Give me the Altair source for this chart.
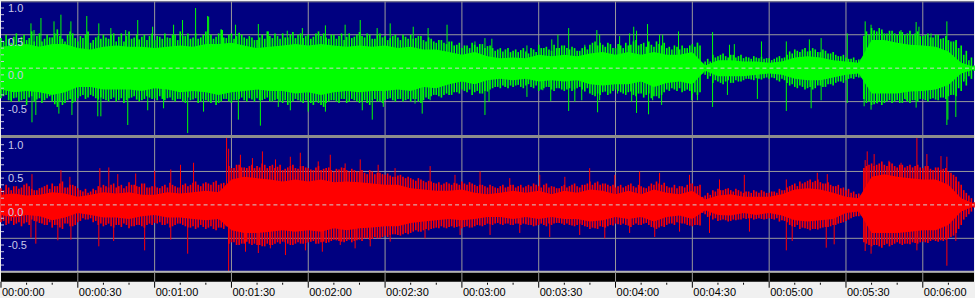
import altair as alt
import pandas as pd

# ---------------- data ----------------
# solid inner body of each channel, every 5 s
core_t = list(range(0, 381, 5))

green_up = [0.32, 0.34, 0.36, 0.32, 0.36, 0.36, 0.30, 0.28, 0.32, 0.34,
            0.32, 0.32, 0.30, 0.32, 0.34, 0.32, 0.36, 0.36, 0.38, 0.34,
            0.30, 0.32, 0.34, 0.36, 0.34, 0.36, 0.34, 0.32, 0.34, 0.32,
            0.34, 0.30, 0.32, 0.28, 0.28, 0.24, 0.20, 0.24, 0.18, 0.15,
            0.16, 0.15, 0.20, 0.18, 0.20, 0.18, 0.22, 0.24, 0.20, 0.24,
            0.20, 0.24, 0.20, 0.20, 0.24, 0.04, 0.12, 0.12, 0.10, 0.10,
            0.08, 0.10, 0.16, 0.18, 0.16, 0.12, 0.10, 0.08, 0.42, 0.42,
            0.38, 0.35, 0.34, 0.32, 0.25, 0.08, 0.02]
green_dn = [-0.32, -0.36, -0.34, -0.36, -0.40, -0.36, -0.28, -0.28, -0.32, -0.32,
            -0.32, -0.34, -0.30, -0.32, -0.36, -0.34, -0.36, -0.40, -0.36, -0.34,
            -0.32, -0.34, -0.34, -0.38, -0.36, -0.40, -0.36, -0.34, -0.36, -0.34,
            -0.34, -0.32, -0.34, -0.28, -0.30, -0.24, -0.20, -0.24, -0.18, -0.16,
            -0.18, -0.16, -0.20, -0.18, -0.20, -0.18, -0.24, -0.26, -0.24, -0.24,
            -0.20, -0.28, -0.22, -0.20, -0.24, -0.04, -0.12, -0.12, -0.12, -0.10,
            -0.08, -0.10, -0.16, -0.18, -0.18, -0.14, -0.10, -0.08, -0.38, -0.38,
            -0.38, -0.35, -0.34, -0.32, -0.25, -0.08, -0.02]

red_up = [0.15, 0.17, 0.14, 0.15, 0.19, 0.17, 0.12, 0.15, 0.19, 0.17,
          0.19, 0.15, 0.15, 0.19, 0.17, 0.19, 0.21, 0.19, 0.38, 0.42,
          0.40, 0.38, 0.35, 0.38, 0.35, 0.38, 0.34, 0.35, 0.34, 0.32,
          0.30, 0.30, 0.25, 0.23, 0.21, 0.21, 0.23, 0.18, 0.16, 0.18,
          0.21, 0.18, 0.21, 0.16, 0.21, 0.18, 0.23, 0.21, 0.16, 0.21,
          0.16, 0.23, 0.18, 0.16, 0.21, 0.08, 0.14, 0.16, 0.12, 0.12,
          0.12, 0.16, 0.23, 0.25, 0.23, 0.18, 0.12, 0.10, 0.42, 0.46,
          0.42, 0.40, 0.38, 0.38, 0.30, 0.10, 0.02]
red_dn = [-0.15, -0.19, -0.15, -0.17, -0.23, -0.19, -0.12, -0.15, -0.19, -0.19,
          -0.21, -0.17, -0.15, -0.19, -0.19, -0.21, -0.23, -0.21, -0.38, -0.42,
          -0.42, -0.40, -0.38, -0.40, -0.38, -0.40, -0.35, -0.38, -0.35, -0.34,
          -0.32, -0.32, -0.27, -0.25, -0.23, -0.21, -0.23, -0.21, -0.18, -0.18,
          -0.21, -0.18, -0.21, -0.18, -0.21, -0.21, -0.25, -0.23, -0.18, -0.21,
          -0.18, -0.25, -0.18, -0.16, -0.21, -0.08, -0.15, -0.16, -0.12, -0.15,
          -0.12, -0.16, -0.23, -0.25, -0.23, -0.21, -0.12, -0.10, -0.42, -0.42,
          -0.42, -0.40, -0.38, -0.38, -0.30, -0.10, -0.02]

# ragged outer edge: max / min of each 1-second slice (even and odd seconds)
edge_t_even = list(range(0, 381, 2))
edge_t_odd = list(range(1, 380, 2))

green_edge_up_even = [0.45, 0.50, 0.38, 0.52, 0.47, 0.42, 0.55, 0.48, 0.40, 0.50,
                      0.46, 0.58, 0.44, 0.50, 0.52, 0.40, 0.45, 0.55, 0.42, 0.48,
                      0.50, 0.44, 0.52, 0.47, 0.40, 0.55, 0.46, 0.43, 0.50, 0.48,
                      0.42, 0.47, 0.52, 0.45, 0.50, 0.55, 0.48, 0.44, 0.52, 0.46,
                      0.55, 0.50, 0.47, 0.58, 0.45, 0.52, 0.48, 0.50, 0.44, 0.46,
                      0.42, 0.50, 0.55, 0.45, 0.48, 0.52, 0.46, 0.54, 0.50, 0.45,
                      0.50, 0.47, 0.55, 0.52, 0.44, 0.50, 0.48, 0.42, 0.52, 0.47,
                      0.54, 0.46, 0.50, 0.44, 0.52, 0.48, 0.45, 0.50, 0.42, 0.47,
                      0.50, 0.45, 0.48, 0.40, 0.44, 0.38, 0.42, 0.36, 0.40, 0.35,
                      0.30, 0.34, 0.38, 0.32, 0.36, 0.33, 0.30, 0.28, 0.25, 0.30,
                      0.26, 0.24, 0.30, 0.22, 0.28, 0.35, 0.30, 0.28, 0.35, 0.30,
                      0.34, 0.28, 0.30, 0.26, 0.32, 0.35, 0.40, 0.38, 0.32, 0.36,
                      0.30, 0.34, 0.38, 0.35, 0.42, 0.36, 0.32, 0.35, 0.40, 0.34,
                      0.30, 0.28, 0.32, 0.34, 0.30, 0.36, 0.38, 0.08, 0.14, 0.20,
                      0.18, 0.22, 0.16, 0.20, 0.18, 0.15, 0.16, 0.18, 0.15, 0.14,
                      0.15, 0.14, 0.18, 0.16, 0.25, 0.28, 0.24, 0.30, 0.26, 0.28,
                      0.24, 0.26, 0.22, 0.20, 0.18, 0.16, 0.14, 0.12, 0.14, 0.55,
                      0.60, 0.55, 0.58, 0.52, 0.56, 0.50, 0.54, 0.52, 0.50, 0.55,
                      0.48, 0.52, 0.46, 0.50, 0.45, 0.42, 0.40, 0.30, 0.20, 0.12,
                      0.04]
green_edge_dn_even = [-0.45, -0.40, -0.50, -0.44, -0.48, -0.55, -0.42, -0.47, -0.52, -0.45,
                      -0.50, -0.58, -0.55, -0.48, -0.52, -0.45, -0.40, -0.44, -0.42, -0.47,
                      -0.46, -0.50, -0.44, -0.48, -0.52, -0.45, -0.42, -0.50, -0.46, -0.44,
                      -0.45, -0.42, -0.48, -0.44, -0.50, -0.46, -0.52, -0.48, -0.45, -0.50,
                      -0.48, -0.52, -0.55, -0.50, -0.46, -0.52, -0.48, -0.44, -0.50, -0.47,
                      -0.45, -0.48, -0.44, -0.50, -0.46, -0.52, -0.55, -0.50, -0.48, -0.52,
                      -0.50, -0.55, -0.52, -0.58, -0.50, -0.48, -0.52, -0.46, -0.50, -0.48,
                      -0.52, -0.48, -0.55, -0.46, -0.50, -0.48, -0.45, -0.50, -0.46, -0.48,
                      -0.50, -0.46, -0.52, -0.44, -0.42, -0.40, -0.44, -0.38, -0.40, -0.36,
                      -0.32, -0.36, -0.40, -0.34, -0.38, -0.35, -0.30, -0.28, -0.26, -0.30,
                      -0.28, -0.25, -0.30, -0.24, -0.30, -0.34, -0.30, -0.28, -0.34, -0.30,
                      -0.34, -0.30, -0.32, -0.28, -0.35, -0.38, -0.42, -0.40, -0.35, -0.38,
                      -0.32, -0.36, -0.40, -0.35, -0.42, -0.38, -0.40, -0.45, -0.42, -0.40,
                      -0.32, -0.30, -0.34, -0.36, -0.32, -0.38, -0.40, -0.08, -0.16, -0.22,
                      -0.20, -0.24, -0.18, -0.22, -0.20, -0.18, -0.16, -0.18, -0.16, -0.15,
                      -0.16, -0.15, -0.20, -0.18, -0.26, -0.28, -0.26, -0.32, -0.28, -0.30,
                      -0.26, -0.28, -0.24, -0.22, -0.20, -0.18, -0.15, -0.13, -0.14, -0.52,
                      -0.55, -0.52, -0.55, -0.50, -0.52, -0.48, -0.52, -0.50, -0.48, -0.50,
                      -0.46, -0.50, -0.45, -0.48, -0.44, -0.42, -0.40, -0.30, -0.20, -0.12,
                      -0.04]
green_edge_up_odd = [0.40, 0.44, 0.47, 0.36, 0.50, 0.45, 0.40, 0.52, 0.44, 0.46,
                     0.52, 0.48, 0.40, 0.55, 0.45, 0.48, 0.50, 0.38, 0.46, 0.44,
                     0.46, 0.50, 0.40, 0.52, 0.48, 0.44, 0.50, 0.47, 0.42, 0.52,
                     0.48, 0.44, 0.46, 0.50, 0.42, 0.48, 0.52, 0.46, 0.44, 0.50,
                     0.48, 0.44, 0.52, 0.46, 0.50, 0.44, 0.53, 0.46, 0.48, 0.42,
                     0.46, 0.44, 0.48, 0.52, 0.44, 0.46, 0.50, 0.45, 0.52, 0.48,
                     0.44, 0.52, 0.48, 0.46, 0.50, 0.44, 0.52, 0.47, 0.45, 0.50,
                     0.48, 0.52, 0.44, 0.50, 0.46, 0.42, 0.48, 0.46, 0.50, 0.44,
                     0.44, 0.48, 0.42, 0.46, 0.40, 0.42, 0.38, 0.40, 0.34, 0.38,
                     0.34, 0.30, 0.35, 0.36, 0.30, 0.34, 0.26, 0.30, 0.28, 0.24,
                     0.28, 0.27, 0.25, 0.30, 0.24, 0.30, 0.32, 0.26, 0.30, 0.34,
                     0.30, 0.32, 0.26, 0.30, 0.28, 0.38, 0.34, 0.35, 0.38, 0.30,
                     0.36, 0.30, 0.34, 0.40, 0.34, 0.38, 0.40, 0.32, 0.36, 0.38,
                     0.32, 0.34, 0.28, 0.30, 0.34, 0.32, 0.34, 0.10, 0.10, 0.16,
                     0.20, 0.18, 0.20, 0.16, 0.20, 0.17, 0.14, 0.16, 0.17, 0.15,
                     0.12, 0.16, 0.15, 0.20, 0.22, 0.26, 0.28, 0.25, 0.30, 0.24,
                     0.28, 0.22, 0.24, 0.18, 0.20, 0.14, 0.16, 0.13, 0.48, 0.50,
                     0.56, 0.60, 0.52, 0.56, 0.52, 0.55, 0.50, 0.56, 0.52, 0.48,
                     0.50, 0.46, 0.50, 0.44, 0.48, 0.40, 0.42, 0.34, 0.26, 0.16]
green_edge_dn_odd = [-0.42, -0.48, -0.45, -0.50, -0.46, -0.44, -0.50, -0.45, -0.48, -0.42,
                     -0.54, -0.50, -0.52, -0.46, -0.50, -0.42, -0.46, -0.40, -0.45, -0.44,
                     -0.48, -0.46, -0.50, -0.45, -0.48, -0.44, -0.47, -0.48, -0.42, -0.46,
                     -0.48, -0.46, -0.45, -0.48, -0.46, -0.50, -0.44, -0.47, -0.52, -0.46,
                     -0.50, -0.48, -0.52, -0.46, -0.50, -0.48, -0.46, -0.48, -0.45, -0.50,
                     -0.48, -0.46, -0.50, -0.48, -0.50, -0.48, -0.52, -0.46, -0.50, -0.48,
                     -0.52, -0.50, -0.55, -0.52, -0.48, -0.50, -0.46, -0.52, -0.46, -0.50,
                     -0.50, -0.52, -0.48, -0.50, -0.52, -0.46, -0.48, -0.46, -0.50, -0.46,
                     -0.46, -0.50, -0.48, -0.46, -0.40, -0.42, -0.40, -0.40, -0.36, -0.38,
                     -0.34, -0.32, -0.36, -0.38, -0.34, -0.32, -0.28, -0.30, -0.28, -0.26,
                     -0.26, -0.28, -0.26, -0.28, -0.26, -0.32, -0.28, -0.32, -0.30, -0.32,
                     -0.32, -0.34, -0.30, -0.32, -0.30, -0.40, -0.38, -0.36, -0.40, -0.34,
                     -0.34, -0.38, -0.36, -0.40, -0.38, -0.44, -0.38, -0.42, -0.45, -0.36,
                     -0.34, -0.32, -0.30, -0.34, -0.34, -0.36, -0.36, -0.10, -0.12, -0.18,
                     -0.22, -0.20, -0.22, -0.18, -0.20, -0.16, -0.17, -0.15, -0.17, -0.14,
                     -0.14, -0.18, -0.16, -0.22, -0.24, -0.30, -0.28, -0.30, -0.32, -0.26,
                     -0.28, -0.24, -0.26, -0.20, -0.22, -0.16, -0.16, -0.14, -0.46, -0.50,
                     -0.54, -0.50, -0.52, -0.48, -0.50, -0.52, -0.46, -0.52, -0.48, -0.46,
                     -0.48, -0.46, -0.47, -0.44, -0.46, -0.40, -0.42, -0.34, -0.26, -0.16]

red_edge_up_even = [0.25, 0.30, 0.22, 0.28, 0.26, 0.32, 0.24, 0.22, 0.26, 0.30,
                    0.32, 0.28, 0.35, 0.26, 0.30, 0.25, 0.20, 0.18, 0.24, 0.28,
                    0.30, 0.26, 0.32, 0.28, 0.25, 0.34, 0.30, 0.27, 0.32, 0.26,
                    0.28, 0.25, 0.30, 0.33, 0.28, 0.26, 0.32, 0.30, 0.35, 0.28,
                    0.34, 0.30, 0.36, 0.32, 0.30, 0.55, 0.60, 0.56, 0.55, 0.60,
                    0.58, 0.62, 0.55, 0.60, 0.57, 0.52, 0.56, 0.60, 0.54, 0.58,
                    0.55, 0.52, 0.58, 0.54, 0.56, 0.50, 0.53, 0.55, 0.50, 0.52,
                    0.50, 0.48, 0.52, 0.46, 0.48, 0.45, 0.44, 0.42, 0.45, 0.40,
                    0.40, 0.36, 0.38, 0.34, 0.35, 0.32, 0.30, 0.34, 0.30, 0.32,
                    0.35, 0.30, 0.32, 0.28, 0.30, 0.26, 0.28, 0.25, 0.30, 0.27,
                    0.30, 0.28, 0.26, 0.30, 0.32, 0.28, 0.30, 0.26, 0.27, 0.25,
                    0.30, 0.28, 0.32, 0.26, 0.30, 0.35, 0.33, 0.30, 0.32, 0.28,
                    0.26, 0.30, 0.28, 0.32, 0.26, 0.28, 0.25, 0.32, 0.35, 0.30,
                    0.28, 0.26, 0.25, 0.28, 0.30, 0.32, 0.28, 0.12, 0.18, 0.22,
                    0.24, 0.22, 0.25, 0.20, 0.22, 0.18, 0.20, 0.22, 0.18, 0.20,
                    0.18, 0.20, 0.24, 0.22, 0.28, 0.32, 0.35, 0.34, 0.38, 0.36,
                    0.34, 0.32, 0.30, 0.28, 0.25, 0.22, 0.18, 0.16, 0.15, 0.58,
                    0.62, 0.60, 0.65, 0.58, 0.62, 0.56, 0.60, 0.58, 0.56, 0.60,
                    0.55, 0.58, 0.52, 0.56, 0.54, 0.50, 0.45, 0.35, 0.22, 0.14,
                    0.04]
red_edge_dn_even = [-0.26, -0.30, -0.24, -0.28, -0.32, -0.26, -0.22, -0.25, -0.28, -0.30,
                    -0.34, -0.30, -0.36, -0.28, -0.32, -0.26, -0.20, -0.22, -0.26, -0.30,
                    -0.32, -0.28, -0.34, -0.30, -0.28, -0.35, -0.32, -0.30, -0.34, -0.28,
                    -0.27, -0.26, -0.30, -0.34, -0.30, -0.28, -0.32, -0.34, -0.36, -0.30,
                    -0.36, -0.32, -0.38, -0.34, -0.32, -0.56, -0.60, -0.58, -0.55, -0.60,
                    -0.60, -0.62, -0.58, -0.60, -0.56, -0.55, -0.58, -0.60, -0.56, -0.58,
                    -0.56, -0.54, -0.58, -0.55, -0.56, -0.52, -0.54, -0.56, -0.52, -0.54,
                    -0.52, -0.50, -0.52, -0.48, -0.50, -0.46, -0.45, -0.44, -0.46, -0.42,
                    -0.42, -0.38, -0.40, -0.36, -0.36, -0.34, -0.32, -0.35, -0.32, -0.33,
                    -0.35, -0.32, -0.34, -0.30, -0.32, -0.28, -0.30, -0.27, -0.30, -0.28,
                    -0.30, -0.28, -0.28, -0.30, -0.32, -0.30, -0.30, -0.28, -0.28, -0.27,
                    -0.30, -0.30, -0.32, -0.28, -0.32, -0.36, -0.35, -0.32, -0.34, -0.30,
                    -0.28, -0.30, -0.30, -0.33, -0.28, -0.30, -0.27, -0.33, -0.36, -0.32,
                    -0.30, -0.28, -0.26, -0.28, -0.30, -0.32, -0.30, -0.12, -0.18, -0.22,
                    -0.24, -0.22, -0.25, -0.22, -0.22, -0.20, -0.20, -0.22, -0.20, -0.22,
                    -0.20, -0.22, -0.25, -0.24, -0.30, -0.33, -0.36, -0.35, -0.38, -0.36,
                    -0.35, -0.33, -0.32, -0.30, -0.27, -0.24, -0.20, -0.17, -0.16, -0.58,
                    -0.62, -0.60, -0.64, -0.58, -0.60, -0.56, -0.60, -0.58, -0.56, -0.58,
                    -0.55, -0.57, -0.52, -0.55, -0.54, -0.50, -0.46, -0.36, -0.22, -0.14,
                    -0.04]
red_edge_up_odd = [0.22, 0.26, 0.28, 0.24, 0.30, 0.28, 0.22, 0.25, 0.28, 0.24,
                   0.28, 0.32, 0.26, 0.30, 0.28, 0.22, 0.24, 0.20, 0.22, 0.26,
                   0.28, 0.30, 0.26, 0.30, 0.28, 0.30, 0.28, 0.32, 0.26, 0.28,
                   0.26, 0.28, 0.26, 0.30, 0.26, 0.30, 0.28, 0.33, 0.30, 0.32,
                   0.32, 0.34, 0.30, 0.33, 0.58, 0.55, 0.60, 0.56, 0.58, 0.55,
                   0.56, 0.60, 0.58, 0.55, 0.60, 0.54, 0.58, 0.55, 0.58, 0.56,
                   0.53, 0.56, 0.52, 0.55, 0.52, 0.54, 0.56, 0.52, 0.54, 0.50,
                   0.52, 0.46, 0.50, 0.48, 0.46, 0.47, 0.42, 0.44, 0.42, 0.42,
                   0.38, 0.40, 0.36, 0.36, 0.33, 0.34, 0.32, 0.32, 0.33, 0.30,
                   0.32, 0.34, 0.30, 0.30, 0.28, 0.30, 0.26, 0.28, 0.26, 0.30,
                   0.26, 0.30, 0.28, 0.28, 0.30, 0.26, 0.32, 0.28, 0.25, 0.28,
                   0.26, 0.30, 0.28, 0.30, 0.32, 0.30, 0.35, 0.32, 0.30, 0.30,
                   0.28, 0.26, 0.30, 0.28, 0.30, 0.26, 0.28, 0.30, 0.32, 0.33,
                   0.26, 0.30, 0.28, 0.26, 0.32, 0.28, 0.30, 0.14, 0.15, 0.20,
                   0.22, 0.24, 0.22, 0.24, 0.20, 0.20, 0.18, 0.20, 0.22, 0.18,
                   0.20, 0.18, 0.22, 0.26, 0.30, 0.28, 0.32, 0.36, 0.34, 0.38,
                   0.32, 0.34, 0.28, 0.30, 0.26, 0.24, 0.20, 0.17, 0.55, 0.60,
                   0.58, 0.62, 0.60, 0.64, 0.58, 0.60, 0.56, 0.60, 0.58, 0.56,
                   0.58, 0.54, 0.56, 0.52, 0.55, 0.48, 0.42, 0.30, 0.18, 0.10]
red_edge_dn_odd = [-0.24, -0.28, -0.30, -0.26, -0.28, -0.30, -0.24, -0.27, -0.30, -0.26,
                   -0.30, -0.34, -0.28, -0.32, -0.30, -0.24, -0.22, -0.20, -0.24, -0.28,
                   -0.30, -0.32, -0.30, -0.33, -0.30, -0.32, -0.30, -0.32, -0.30, -0.30,
                   -0.28, -0.30, -0.28, -0.32, -0.28, -0.30, -0.34, -0.32, -0.34, -0.33,
                   -0.34, -0.36, -0.34, -0.36, -0.58, -0.56, -0.60, -0.58, -0.58, -0.58,
                   -0.60, -0.62, -0.60, -0.58, -0.58, -0.56, -0.60, -0.58, -0.58, -0.57,
                   -0.55, -0.58, -0.56, -0.57, -0.54, -0.53, -0.55, -0.54, -0.56, -0.53,
                   -0.54, -0.50, -0.51, -0.50, -0.48, -0.48, -0.44, -0.45, -0.44, -0.44,
                   -0.40, -0.40, -0.38, -0.38, -0.35, -0.35, -0.34, -0.33, -0.34, -0.32,
                   -0.33, -0.34, -0.32, -0.31, -0.30, -0.29, -0.28, -0.29, -0.28, -0.30,
                   -0.28, -0.30, -0.29, -0.30, -0.31, -0.28, -0.32, -0.30, -0.27, -0.28,
                   -0.28, -0.31, -0.30, -0.30, -0.33, -0.34, -0.36, -0.33, -0.32, -0.31,
                   -0.29, -0.28, -0.31, -0.30, -0.30, -0.28, -0.30, -0.34, -0.34, -0.33,
                   -0.28, -0.30, -0.27, -0.28, -0.31, -0.30, -0.31, -0.14, -0.16, -0.20,
                   -0.23, -0.23, -0.24, -0.23, -0.22, -0.21, -0.20, -0.21, -0.21, -0.21,
                   -0.21, -0.20, -0.23, -0.26, -0.32, -0.30, -0.34, -0.36, -0.36, -0.37,
                   -0.34, -0.33, -0.30, -0.28, -0.26, -0.22, -0.18, -0.17, -0.56, -0.60,
                   -0.60, -0.62, -0.60, -0.62, -0.58, -0.58, -0.58, -0.59, -0.57, -0.56,
                   -0.56, -0.54, -0.54, -0.53, -0.52, -0.48, -0.42, -0.30, -0.18, -0.10]

# isolated peaks (time in s, peak value)
green_peak_t = [11.7, 12.9, 15.6, 20.7, 23.4, 27.3, 33.5, 38.2, 42.9, 48.7,
                53.4, 59.2, 67.4, 70.9, 76.0, 80.7, 81.1, 86.5, 91.6, 100.5,
                104.4, 111.8, 117.7, 126.7, 134.4, 140.3, 146.9, 152.0, 161.0, 166.8,
                174.2, 185.1, 189.0, 191.7, 205.4, 215.1, 217.5, 221.7, 228.0, 232.7,
                233.8, 241.6, 245.5, 247.1, 248.2, 252.5, 257.2, 258.4, 264.6, 272.0,
                277.9, 284.5, 286.4, 297.0, 306.7, 315.7, 320.3, 330.5, 337.5, 339.8,
                341.0, 344.1, 351.5, 357.4, 358.5, 363.2, 369.4, 372.9,
                3.9, 12.1, 13.6, 22.6, 27.7, 37.8, 39.0, 49.5, 57.3, 63.5,
                72.9, 79.1, 92.7, 101.3, 108.3, 113.0, 120.0, 126.7, 141.1, 145.0,
                149.3, 161.7, 164.5, 167.6, 189.0, 190.6, 196.8, 205.4, 211.6, 214.7,
                221.7, 224.1, 226.8, 233.0, 233.8, 240.8, 246.3, 248.2, 252.9, 254.5,
                258.0, 269.7, 272.0, 277.9, 283.7, 295.4, 306.7, 316.4, 320.3, 330.5,
                337.1, 339.8, 342.2, 353.5, 357.4, 369.4, 369.8, 372.9, 376.1]
green_peak_v = [0.67, 0.57, 0.75, 0.70, 0.80, 0.70, 0.78, 0.67, 0.60, 0.57,
                0.72, 0.62, 0.65, 0.72, 0.90, 0.78, 0.77, 0.57, 0.65, 0.66,
                0.55, 0.56, 0.60, 0.64, 0.65, 0.72, 0.60, 0.67, 0.62, 0.60,
                0.65, 0.40, 0.45, 0.44, 0.34, 0.43, 0.50, 0.60, 0.35, 0.57,
                0.50, 0.48, 0.52, 0.62, 0.56, 0.66, 0.50, 0.50, 0.55, 0.38,
                0.54, 0.35, 0.36, 0.40, 0.40, 0.43, 0.45, 0.52, 0.70, 0.65,
                0.57, 0.54, 0.57, 0.69, 0.62, 0.52, 0.70, 0.40,
                -0.48, -0.81, -0.70, -0.68, -0.70, -0.72, -0.72, -0.85, -0.63, -0.60,
                -0.97, -0.65, -0.77, -0.86, -0.58, -0.63, -0.65, -0.65, -0.63, -0.77,
                -0.58, -0.53, -0.68, -0.48, -0.70, -0.50, -0.28, -0.43, -0.33, -0.49,
                -0.64, -0.50, -0.48, -0.66, -0.48, -0.38, -0.50, -0.67, -0.69, -0.48,
                -0.55, -0.48, -0.48, -0.58, -0.40, -0.46, -0.64, -0.60, -0.48, -0.52,
                -0.57, -0.62, -0.53, -0.48, -0.59, -0.85, -0.77, -0.73, -0.16]

red_peak_t = [12.1, 23.4, 26.9, 38.6, 42.1, 45.6, 52.6, 60.0, 66.3, 70.1,
              75.2, 88.1, 88.9, 93.5, 98.2, 102.1, 107.2, 113.0, 116.9, 123.9,
              128.6, 134.4, 140.3, 147.3, 153.9, 167.6, 177.3, 187.1, 198.7, 210.4,
              220.2, 229.9, 239.7, 249.4, 257.2, 268.9, 280.6, 290.3, 306.7, 318.8,
              322.7, 337.5, 338.3, 341.0, 346.8, 351.5, 357.7, 361.6, 367.1, 369.4,
              372.9,
              11.7, 13.6, 22.2, 27.3, 38.2, 44.0, 56.1, 66.3, 72.9, 88.9,
              95.5, 100.5, 105.2, 111.1, 118.9, 125.5, 132.5, 138.3, 144.2, 152.0,
              165.6, 179.3, 191.0, 202.6, 214.3, 226.0, 235.8, 245.5, 255.3, 265.0,
              276.7, 292.3, 306.7, 309.0, 322.3, 325.4, 337.5, 339.8, 357.7, 369.4,
              372.9]
red_peak_v = [0.46, 0.52, 0.42, 0.55, 0.56, 0.46, 0.47, 0.51, 0.53, 0.60,
              0.63, 1.00, 0.84, 0.75, 0.70, 0.80, 0.68, 0.72, 0.78, 0.65,
              0.75, 0.62, 0.68, 0.60, 0.55, 0.58, 0.45, 0.50, 0.40, 0.45,
              0.42, 0.55, 0.45, 0.50, 0.48, 0.45, 0.38, 0.45, 0.38, 0.48,
              0.46, 0.67, 0.80, 0.76, 0.66, 0.63, 1.00, 0.76, 0.73, 0.72,
              0.36,
              -0.49, -0.58, -0.53, -0.52, -0.62, -0.54, -0.68, -0.52, -0.73, -1.00,
              -0.70, -0.72, -0.65, -0.75, -0.68, -0.70, -0.60, -0.65, -0.62, -0.55,
              -0.50, -0.45, -0.45, -0.42, -0.48, -0.45, -0.50, -0.42, -0.48, -0.40,
              -0.42, -0.40, -0.68, -0.54, -0.64, -0.59, -0.69, -0.73, -0.68, -0.91,
              -0.54]

major_secs = [0, 30, 60, 90, 120, 150, 180, 210, 240, 270, 300, 330, 360]
major_labels = ["00:00:00", "00:00:30", "00:01:00", "00:01:30", "00:02:00",
                "00:02:30", "00:03:00", "00:03:30", "00:04:00", "00:04:30",
                "00:05:00", "00:05:30", "00:06:00"]
minor_secs = [10, 20, 40, 50, 70, 80, 100, 110, 130, 140, 160, 170, 190, 200,
              220, 230, 250, 260, 280, 290, 310, 320, 340, 350, 370]
grid_secs = [30, 60, 90, 120, 150, 180, 210, 240, 270, 300, 330, 360]
y_grid = [0.5, -0.5]
y_zero = [0.0]
y_label_vals = [1.0, 0.5, 0.0, -0.5]
y_label_text = ["1.0", "0.5", "0.0", "-0.5"]
y_minor = [0.9, 0.8, 0.7, 0.6, 0.4, 0.3, 0.2, 0.1, -0.1, -0.2, -0.3, -0.4,
           -0.6, -0.7, -0.8, -0.9]

# ---------------- chart ----------------
W, H = 975, 134
NAVY = "#000080"
GRID = "#9a9a9a"
FONT = "Liberation Sans"

xs = alt.Scale(domain=[0, 380], nice=False, zero=False)
ys = alt.Scale(domain=[-1, 1], nice=False, zero=False)
one = pd.DataFrame({"a": [0]})


def panel(up, dn, eu_e, ed_e, eu_o, ed_o, pt, pv, color, bottom):
    core = pd.DataFrame({"t": core_t, "up": up, "dn": dn})
    edge = pd.DataFrame({"t": edge_t_even + edge_t_odd,
                         "up": eu_e + eu_o, "dn": ed_e + ed_o})
    peaks = pd.DataFrame({"t": pt, "v": pv, "base": [0.0] * len(pt)})
    X = alt.X("t:Q", scale=xs, axis=None)
    layers = []
    gbottom = H + 10 if bottom else H
    layers.append(alt.Chart(pd.DataFrame({"t": grid_secs})).mark_rule(
        color=GRID, strokeWidth=1).encode(x=X, y=alt.value(0), y2=alt.value(gbottom)))
    layers.append(alt.Chart(pd.DataFrame({"v": y_grid})).mark_rule(
        color=GRID, strokeWidth=1).encode(
        y=alt.Y("v:Q", scale=ys, axis=None), x=alt.value(0), x2=alt.value(W)))
    layers.append(alt.Chart(core).mark_area(color=color, opacity=1, interpolate="linear").encode(
        x=X, y=alt.Y("up:Q", scale=ys, axis=None), y2="dn:Q"))
    layers.append(alt.Chart(edge).mark_rule(color=color, strokeWidth=1.6).encode(
        x=X, y=alt.Y("up:Q", scale=ys, axis=None), y2="dn:Q"))
    layers.append(alt.Chart(peaks).mark_rule(color=color, strokeWidth=1).encode(
        x=X, y=alt.Y("v:Q", scale=ys, axis=None), y2="base:Q"))
    layers.append(alt.Chart(pd.DataFrame({"v": y_zero})).mark_rule(
        color="#d0d0d0", strokeWidth=1, strokeDash=[4, 3]).encode(
        y=alt.Y("v:Q", scale=ys, axis=None), x=alt.value(0), x2=alt.value(W)))
    layers.append(alt.Chart(pd.DataFrame({"v": y_minor})).mark_rule(
        color="#c8c8e0", strokeWidth=1).encode(
        y=alt.Y("v:Q", scale=ys, axis=None), x=alt.value(0), x2=alt.value(3)))
    layers.append(alt.Chart(pd.DataFrame({"v": y_label_vals, "s": y_label_text})).mark_text(
        align="left", baseline="top", dy=2, font=FONT, fontSize=11,
        color="#c8c8e8").encode(
        y=alt.Y("v:Q", scale=ys, axis=None), x=alt.value(7), text="s:N"))
    if not bottom:
        layers.append(alt.Chart(one).mark_rule(color="#8c8c8c", strokeWidth=1).encode(
            y=alt.value(0.5), x=alt.value(0), x2=alt.value(W)))
        layers.append(alt.Chart(one).mark_rect(color="#8c8c8c").encode(
            y=alt.value(H), y2=alt.value(H + 3), x=alt.value(0), x2=alt.value(W)))
    else:
        layers.append(alt.Chart(one).mark_rect(color="#b4b4b4").encode(
            y=alt.value(H - 1), y2=alt.value(H + 1), x=alt.value(0), x2=alt.value(W)))
        layers.append(alt.Chart(one).mark_rect(color="#000000").encode(
            y=alt.value(H + 1), y2=alt.value(H + 10), x=alt.value(0), x2=alt.value(W)))
        layers.append(alt.Chart(pd.DataFrame({"t": grid_secs})).mark_rule(
            color=GRID, strokeWidth=1).encode(x=X, y=alt.value(H + 1), y2=alt.value(H + 10)))
        layers.append(alt.Chart(pd.DataFrame({"t": major_secs})).mark_rule(
            color="#000000", strokeWidth=1).encode(x=X, y=alt.value(H + 10), y2=alt.value(H + 16)))
        layers.append(alt.Chart(pd.DataFrame({"t": minor_secs})).mark_rule(
            color="#000000", strokeWidth=1).encode(x=X, y=alt.value(H + 11), y2=alt.value(H + 13)))
        layers.append(alt.Chart(pd.DataFrame({"t": major_secs, "s": major_labels})).mark_text(
            align="left", baseline="top", dx=1, font=FONT, fontSize=11, color="#000000").encode(
            x=X, y=alt.value(H + 15), text="s:N"))
    return alt.layer(*layers).properties(width=W, height=H)


top = panel(green_up, green_dn, green_edge_up_even, green_edge_dn_even,
            green_edge_up_odd, green_edge_dn_odd,
            green_peak_t, green_peak_v, "#00ff00", False)
bot = panel(red_up, red_dn, red_edge_up_even, red_edge_dn_even,
            red_edge_up_odd, red_edge_dn_odd,
            red_peak_t, red_peak_v, "#ff0000", True)

chart = alt.vconcat(top, bot, spacing=3, bounds="flush").properties(
    padding=0, background="#f0f0f0"
).configure_view(fill=NAVY, strokeWidth=0)

chart.save("out.html", embed_options={"renderer": "svg", "actions": False})
